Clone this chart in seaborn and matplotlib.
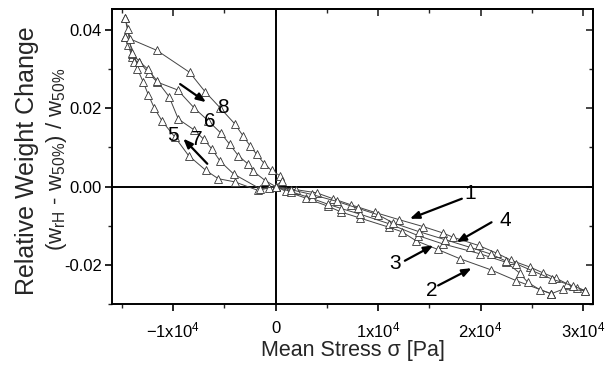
import numpy as np
import pandas as pd
import matplotlib
matplotlib.use("Agg")
import matplotlib.pyplot as plt
from matplotlib.ticker import MultipleLocator, FixedLocator, FixedFormatter
import seaborn as sns

# ---------------- data ----------------
b1_x = [0, 2000, 4000, 5600, 7400, 9700, 12000, 14400, 16300, 17300, 19800, 21600,
        23000, 24800, 26100, 27400, 28400, 29400, 30200]
b1_y = [0, -0.0008, -0.0016, -0.0031, -0.0047, -0.0066, -0.0084, -0.0102, -0.0118,
        -0.0129, -0.0150, -0.0170, -0.0188, -0.0205, -0.0220, -0.0234, -0.0247, -0.0258, -0.0265]

b2_x = [26900, 23500, 21000, 18000, 15800, 13700, 12300, 11100, 8200, 6400, 5100, 3000, 1000, 0]
b2_y = [-0.0273, -0.0240, -0.0212, -0.0184, -0.0160, -0.0138, -0.0115, -0.0104, -0.0080,
        -0.0065, -0.0050, -0.0030, -0.0012, 0]

b3_x = [0, 1500, 3500, 5100, 6400, 8200, 11100, 13900, 16300, 19900, 22500, 23800, 24600, 25800, 26900]
b3_y = [0, -0.0013, -0.0030, -0.0045, -0.0056, -0.0070, -0.0095, -0.0125, -0.0146, -0.0171,
        -0.0193, -0.0220, -0.0244, -0.0263, -0.0273]

b4_x = [26900, 28000, 30200, 29000, 27000, 25000, 23500, 22500, 21000, 19000, 16500, 14000,
        11500, 10000, 8000, 6000, 3500, 1500, 0]
b4_y = [-0.0273, -0.0262, -0.0265, -0.0253, -0.0236, -0.0214, -0.0197, -0.0190, -0.0172,
        -0.0155, -0.0135, -0.0115, -0.0093, -0.0072, -0.0055, -0.0038, -0.0020, -0.0008, 0]

b5_x = [0, -600, -1700, -4000, -5600, -6800, -8500, -9800, -11060, -11840, -12430,
        -12920, -13500, -14000, -14400, -14700]
b5_y = [0, -0.0003, -0.0010, 0.0012, 0.0020, 0.0041, 0.0079, 0.0125, 0.0166, 0.0200,
        0.0234, 0.0266, 0.0300, 0.0330, 0.0360, 0.0380]

b6_x = [-14700, -14000, -13800, -13300, -12400, -11550, -9560, -7940, -6600, -5340,
        -4500, -3650, -2730, -2190, -1000, 0]
b6_y = [0.0380, 0.0338, 0.0318, 0.0318, 0.0289, 0.0266, 0.0246, 0.0200, 0.0168, 0.0136,
        0.0108, 0.0079, 0.0058, 0.0039, 0.0015, 0]

b7_x = [0, -1500, -4100, -5400, -6200, -7000, -8000, -9500, -10400, -11600, -12500,
        -13300, -14000, -14700]
b7_y = [0, -0.0006, 0.0032, 0.0064, 0.0095, 0.0120, 0.0145, 0.0172, 0.0229, 0.0270,
        0.0300, 0.0318, 0.0340, 0.0430]

b8_x = [-14700, -14400, -14200, -11600, -8400, -6900, -5400, -4000, -3200, -2500,
        -1850, -1100, -400, 400, 600, 0]
b8_y = [0.0430, 0.0402, 0.0376, 0.0347, 0.0291, 0.0242, 0.0200, 0.0160, 0.0130, 0.0104,
        0.0082, 0.0058, 0.0041, 0.0028, 0.0015, 0]

branches = {"1": (b1_x, b1_y), "2": (b2_x, b2_y), "3": (b3_x, b3_y), "4": (b4_x, b4_y),
            "5": (b5_x, b5_y), "6": (b6_x, b6_y), "7": (b7_x, b7_y), "8": (b8_x, b8_y)}

# label text position, arrow tail, arrow head (data coords)
label_names = ["1", "4", "3", "2", "8", "6", "5", "7"]
label_pos = [(18960, -0.0018), (22400, -0.0087), (11640, -0.0197), (15220, -0.0265),
             (-5110, 0.0202), (-6410, 0.0166), (-9990, 0.0130), (-7710, 0.0119)]
arrows = [((18170, -0.0031), (13100, -0.0082)),
          ((21070, -0.0091), (17660, -0.0142)),
          ((12610, -0.0189), (15380, -0.0150)),
          ((15860, -0.0252), (19120, -0.0208)),
          ((-9320, 0.0261), (-6800, 0.0215)),
          ((-6670, 0.0058), (-9010, 0.0122))]

x_ticks = [-10000, 0, 10000, 20000, 30000]
x_ticklabels = [r"$\mathregular{-1x10^{4}}$", "0", r"$\mathregular{1x10^{4}}$",
                r"$\mathregular{2x10^{4}}$", r"$\mathregular{3x10^{4}}$"]
y_ticks = [-0.02, 0.0, 0.02, 0.04]
y_ticklabels = ["-0.02", "0.00", "0.02", "0.04"]

# ---------------- build table ----------------
rows = []
for name, (xs, ys) in branches.items():
    for i, (xv, yv) in enumerate(zip(xs, ys)):
        rows.append({"branch": name, "order": i, "stress": xv, "dw": yv})
df = pd.DataFrame(rows)

# ---------------- plot ----------------
sns.set_style("ticks")
plt.rcParams["font.family"] = ["Liberation Sans", "DejaVu Sans"]
plt.rcParams["mathtext.default"] = "regular"

fig = plt.figure(figsize=(6.08, 3.77), dpi=100)
ax = fig.add_axes([0.1837, 0.1928, 0.7921, 0.7841])

line_col = "#444444"
sns.lineplot(data=df, x="stress", y="dw", units="branch", estimator=None, sort=False,
             color=line_col, linewidth=0.7, marker="^", markersize=6,
             markerfacecolor="white", markeredgecolor="#333333", markeredgewidth=0.6,
             ax=ax, legend=False)

ax.axhline(0, color="black", lw=1.4, zorder=1)
ax.axvline(0, color="black", lw=1.4, zorder=1)

ax.set_xlim(-16000, 31000)
ax.set_ylim(-0.030, 0.0453)

ax.xaxis.set_major_locator(FixedLocator(x_ticks))
ax.xaxis.set_major_formatter(FixedFormatter(x_ticklabels))
ax.xaxis.set_minor_locator(MultipleLocator(5000))
ax.yaxis.set_major_locator(FixedLocator(y_ticks))
ax.yaxis.set_major_formatter(FixedFormatter(y_ticklabels))
ax.yaxis.set_minor_locator(MultipleLocator(0.01))

ax.tick_params(which="major", direction="out", length=5, width=1.2, labelsize=12,
               colors="black")
ax.tick_params(which="minor", direction="out", length=3, width=1.0)
ax.tick_params(axis="x", pad=7)
ax.tick_params(axis="y", pad=2)

for s in ax.spines.values():
    s.set_visible(True)
    s.set_linewidth(1.4)
    s.set_color("black")

# inward ticks on top and right
secx = ax.secondary_xaxis("top")
secx.xaxis.set_major_locator(FixedLocator(x_ticks))
secx.xaxis.set_minor_locator(MultipleLocator(5000))
secx.tick_params(which="major", direction="in", length=5, width=1.2, labeltop=False)
secx.tick_params(which="minor", direction="in", length=3, width=1.0)
secx.spines["top"].set_linewidth(1.4)
secy = ax.secondary_yaxis("right")
secy.yaxis.set_major_locator(FixedLocator(y_ticks))
secy.yaxis.set_minor_locator(MultipleLocator(0.01))
secy.tick_params(which="major", direction="in", length=5, width=1.2, labelright=False)
secy.tick_params(which="minor", direction="in", length=3, width=1.0)
secy.spines["right"].set_linewidth(1.4)

ax.set_xlabel("")
ax.set_ylabel("")
fig.text(0.580, 0.071, "Mean Stress σ [Pa]", ha="center", va="center", fontsize=15.5)
fig.text(0.045, 0.574, "Relative Weight Change", rotation=90, ha="center", va="center",
         fontsize=18)
fig.text(0.093, 0.578, r"(w$_{rH}$ - w$_{50\%}$) / w$_{50\%}$", rotation=90,
         ha="center", va="center", fontsize=16)

for name, (tx, ty) in zip(label_names, label_pos):
    ax.text(tx, ty, name, fontsize=15, ha="center", va="center", color="black")

for (tail, head) in arrows:
    ax.annotate("", xy=head, xytext=tail,
                arrowprops=dict(arrowstyle="-|>,head_length=0.55,head_width=0.22",
                                color="black", lw=1.6, shrinkA=0, shrinkB=0))

fig.savefig("out.png", dpi=100)
